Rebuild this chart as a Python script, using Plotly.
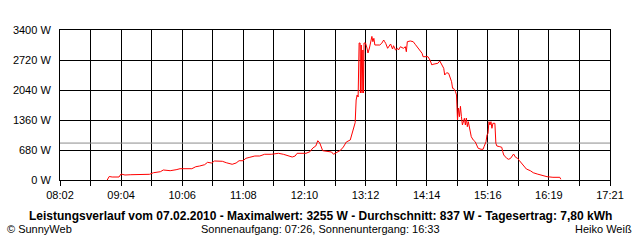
import plotly.graph_objects as go

# ---- data ----
times = ["08:50","08:52","08:55","08:58","09:02","09:04","09:08","09:14","09:23","09:33",
         "09:37","09:44","09:47","09:54","10:00","10:04","10:16","10:20","10:24","10:29",
         "10:32","10:36","10:39","10:47","10:51","10:57","11:01","11:04","11:08","11:11",
         "11:15","11:20","11:25","11:30","11:37","11:44","11:49","11:54","11:58","12:01",
         "12:03","12:12","12:16","12:19","12:22","12:24","12:26","12:29","12:33","12:38",
         "12:40","12:43","12:47","12:50","12:53","12:57","12:59","13:01","13:02","13:03",
         "13:04","13:05","13:06","13:07","13:07:20","13:08:10","13:09","13:09:50","13:10:30","13:11",
         "13:12:30","13:14","13:15","13:16:30","13:17:30","13:19","13:20","13:21","13:22","13:24",
         "13:27","13:29","13:31","13:32","13:33","13:35","13:36","13:38","13:40","13:41",
         "13:43","13:45","13:46","13:48","13:51","13:53","13:54","13:55","13:58","14:01",
         "14:03","14:05","14:07","14:10","14:11","14:16","14:18","14:20","14:21","14:26",
         "14:28","14:30","14:32","14:33","14:35","14:37","14:38","14:40","14:41","14:42",
         "14:44","14:45","14:46","14:47","14:48","14:49","14:50","14:51","14:53","14:54",
         "14:55","14:56","14:57","14:58","14:59","15:00","15:02","15:04","15:05","15:07",
         "15:10","15:12","15:13","15:15","15:16","15:17","15:18","15:19","15:20","15:21",
         "15:22","15:24","15:25","15:26","15:29","15:31","15:32","15:33","15:36","15:38",
         "15:40","15:42","15:43","15:45","15:47","15:49","15:51","15:54","15:56","16:00",
         "16:03","16:07","16:12","16:17","16:23","16:30","16:31"]
watts = [0,79,68,68,68,136,113,120,120,129,
         165,188,227,211,233,256,256,301,317,347,
         401,385,431,424,392,356,385,437,437,492,
         515,544,544,583,583,605,583,551,521,544,
         605,605,641,725,771,891,839,664,651,635,
         583,628,673,748,861,907,1059,1200,1300,1813,
         1927,1881,3105,3105,1972,3060,1972,2947,1972,3105,
         3105,2992,2879,2992,3135,3255,3135,3211,3060,3060,
         3060,3099,3173,3135,3099,2985,3021,3083,2969,3044,
         2947,2985,2947,3021,2985,3021,2908,3135,3151,3135,
         3076,3021,2947,2872,2795,2795,2720,2607,2622,2645,
         2697,2607,2532,2380,2432,2418,2341,2228,2078,2078,
         2001,1927,1360,1632,1435,1670,1435,1247,1398,1247,
         1405,1208,1322,1172,1020,981,907,868,816,719,
         696,696,755,868,1020,1059,1322,1247,1322,1172,
         1285,1285,832,771,755,741,641,567,492,469,
         492,544,589,515,492,437,379,301,249,211,
         165,136,97,75,61,61,16]

average_w = 837
x_tick_labels = ["08:02","09:04","10:06","11:08","12:10","13:12","14:14","15:16","16:19","17:21"]
y_max = 3400
y_step = 680

title_text = "Leistungsverlauf vom 07.02.2010 - Maximalwert: 3255 W - Durchschnitt: 837 W - Tagesertrag: 7,80 kWh"
left_text = "© SunnyWeb"
center_text = "Sonnenaufgang: 07:26, Sonnenuntergang: 16:33"
right_text = "Heiko Weiß"


def to_min(s):
    parts = [int(p) for p in s.split(":")]
    m = parts[0] * 60 + parts[1]
    if len(parts) > 2:
        m += parts[2] / 60.0
    return m


xs = [to_min(t) for t in times]
x0 = to_min(x_tick_labels[0])
x1 = to_min(x_tick_labels[-1])
n = (len(x_tick_labels) - 1) * 2
tickvals = [x0 + (x1 - x0) * k / n for k in range(n + 1)]
ticktext = []
for k in range(n + 1):
    ticktext.append(x_tick_labels[k // 2] if k % 2 == 0 else "")

FONT = "Liberation Sans, Arial, sans-serif"

fig = go.Figure()
fig.add_trace(go.Scatter(x=[x0, x1], y=[average_w, average_w], mode="lines",
                         line=dict(color="#8c8c8c", width=1), hoverinfo="skip"))
fig.add_trace(go.Scatter(x=xs, y=watts, mode="lines",
                         line=dict(color="#ff0000", width=1)))

fig.update_layout(
    width=640, height=240,
    margin=dict(l=60, r=30, t=30, b=60),
    paper_bgcolor="white", plot_bgcolor="white",
    showlegend=False,
    font=dict(family=FONT, size=11, color="black"),
    xaxis=dict(range=[x0, x1], tickvals=tickvals, ticktext=ticktext,
               showgrid=True, gridcolor="black", gridwidth=1,
               ticks="outside", ticklen=5, tickcolor="black", tickwidth=1,
               showline=True, linecolor="black", linewidth=1, mirror=True,
               zeroline=False, tickfont=dict(size=11, family=FONT)),
    yaxis=dict(range=[0, y_max], tickvals=list(range(0, y_max + 1, y_step)),
               ticktext=[f"{v} W" for v in range(0, y_max + 1, y_step)],
               showgrid=True, gridcolor="black", gridwidth=1,
               showline=True, linecolor="black", linewidth=1, mirror=True,
               zeroline=False, ticks="", ticklabelstandoff=6,
               tickfont=dict(size=11, family=FONT)),
)

fig.add_annotation(text="<b>" + title_text + "</b>", xref="paper", yref="paper",
                   x=(320 - 60) / 550, y=-0.24, xanchor="center", yanchor="middle",
                   showarrow=False, font=dict(size=12, family=FONT, color="black"))
fig.add_annotation(text=left_text, xref="paper", yref="paper",
                   x=(5 - 60) / 550, y=-0.327, xanchor="left", yanchor="middle",
                   showarrow=False, font=dict(size=11, family=FONT, color="black"))
fig.add_annotation(text=center_text, xref="paper", yref="paper",
                   x=(320 - 60) / 550, y=-0.327, xanchor="center", yanchor="middle",
                   showarrow=False, font=dict(size=11, family=FONT, color="black"))
fig.add_annotation(text=right_text, xref="paper", yref="paper",
                   x=(634 - 60) / 550, y=-0.327, xanchor="right", yanchor="middle",
                   showarrow=False, font=dict(size=11, family=FONT, color="black"))

fig.write_html("out.html")
